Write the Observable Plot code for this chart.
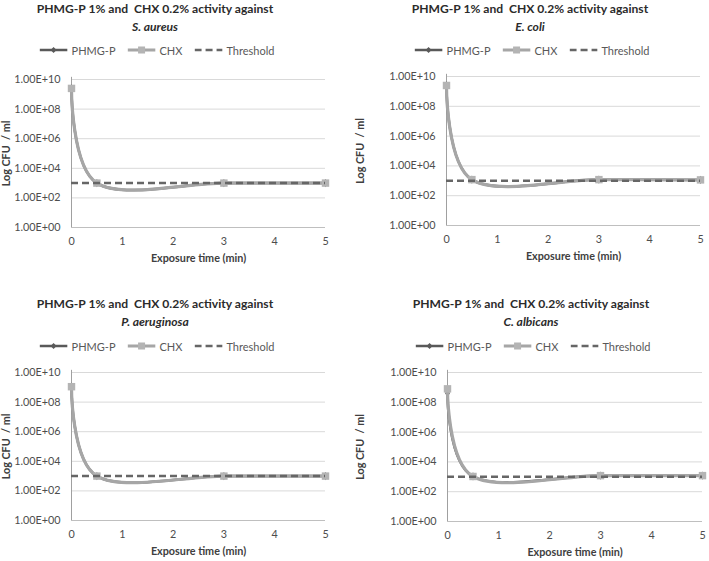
<!DOCTYPE html>
<html><head><meta charset="utf-8">
<script src="https://cdn.jsdelivr.net/npm/d3@7"></script>
<script src="https://cdn.jsdelivr.net/npm/@observablehq/plot@0.6"></script>
<style>
body{margin:0;background:#fff;}
#root{position:relative;width:709px;height:561px;overflow:hidden;font-family:Lato,"Open Sans",sans-serif;background:#fff;}
.panel{position:absolute;height:280px;}
.title{position:absolute;text-align:center;font-weight:bold;font-size:12.1px;line-height:18px;color:#2b2b2b;white-space:pre;transform:translateX(-50%);}
.title i{font-style:italic;}
.legend{position:absolute;display:flex;align-items:center;font-size:11px;color:#595959;height:14px;white-space:nowrap;transform:translateX(-50%);}
.legend .item{display:flex;align-items:center;margin:0 6px;}
.legend svg{margin-right:4px;}
.chart{position:absolute;left:0;}
.chart svg [aria-label="x-axis label"] text,.chart svg [aria-label="y-axis label"] text{font-weight:bold;fill:#404040;}
</style>
</head><body>
<div id="root"></div>
<script>
// ---- data ----
const titleLine = "PHMG-P 1% and  CHX 0.2% activity against";
const organisms = ["S. aureus", "E. coli", "P. aeruginosa", "C. albicans"];
const times = [0, 0.5, 3, 5];
const phmgP = [
  [2.5e9, 1.0e3, 1.0e3, 1.0e3],
  [2.5e9, 1.2e3, 1.2e3, 1.15e3],
  [1.1e9, 1.0e3, 1.0e3, 1.0e3],
  [4.0e8, 1.05e3, 1.2e3, 1.2e3]
];
const chx = [
  [2.5e9, 1.0e3, 1.0e3, 1.0e3],
  [2.5e9, 1.2e3, 1.2e3, 1.15e3],
  [1.1e9, 1.0e3, 1.0e3, 1.0e3],
  [8.0e8, 1.05e3, 1.2e3, 1.2e3]
];
const threshold = 1e3;
const seriesNames = ["PHMG-P", "CHX", "Threshold"];
const xTicks = [0, 1, 2, 3, 4, 5];
const yTicks = [1, 1e2, 1e4, 1e6, 1e8, 1e10];
const xLabel = "Exposure time (min)";
const yLabel = "Log CFU  / ml";

// ---- layout ----
const layouts = [
  {left: 0,   top: 0,   w: 354, titleCx: 155, titleTop: 0,  legendCy: 50, svgTop: 64, ml: 71, mr: 29, ph: 148, mb: 44},
  {left: 354, top: 0,   w: 355, titleCx: 176, titleTop: 0,  legendCy: 50, svgTop: 61, ml: 92, mr: 9,  ph: 149, mb: 44},
  {left: 0,   top: 280, w: 354, titleCx: 155, titleTop: 15, legendCy: 66, svgTop: 77, ml: 71, mr: 29, ph: 148, mb: 40},
  {left: 354, top: 280, w: 355, titleCx: 177, titleTop: 15, legendCy: 66, svgTop: 77, ml: 93, mr: 7,  ph: 149, mb: 40}
];
const C = {phmg: "#595959", chx: "#a6a6a6", chxFill: "#b4b4b4", thr: "#666666", grid: "#d9d9d9", axis: "#bfbfbf"};

const fmt = d => "1.00E+" + String(Math.round(Math.log10(d))).padStart(2, "0");

function swatch(kind) {
  const ns = "http://www.w3.org/2000/svg";
  const s = document.createElementNS(ns, "svg");
  s.setAttribute("width", 28); s.setAttribute("height", 10);
  if (kind === 0) {
    s.innerHTML = `<line x1="0" x2="28" y1="5" y2="5" stroke="${C.phmg}" stroke-width="2.5"/><path d="M14,2 L17,5 L14,8 L11,5Z" fill="${C.phmg}"/>`;
  } else if (kind === 1) {
    s.innerHTML = `<line x1="0" x2="28" y1="5" y2="5" stroke="${C.chx}" stroke-width="3"/><rect x="10.5" y="1.5" width="7" height="7" fill="${C.chxFill}"/>`;
  } else {
    s.innerHTML = `<line x1="0" x2="28" y1="5" y2="5" stroke="${C.thr}" stroke-width="2.5" stroke-dasharray="7,4"/>`;
  }
  return s;
}

const root = document.getElementById("root");
organisms.forEach((org, i) => {
  const L = layouts[i];
  const panel = document.createElement("div");
  panel.className = "panel";
  panel.style.left = L.left + "px"; panel.style.top = L.top + "px"; panel.style.width = L.w + "px";
  root.appendChild(panel);

  const title = document.createElement("div");
  title.className = "title";
  title.style.left = L.titleCx + "px"; title.style.top = L.titleTop + "px";
  title.innerHTML = `${titleLine}\n<i>${org}</i>`;
  panel.appendChild(title);

  const legend = document.createElement("div");
  legend.className = "legend";
  legend.style.left = L.titleCx + 2 + "px"; legend.style.top = (L.legendCy - 7) + "px";
  seriesNames.forEach((name, k) => {
    const it = document.createElement("div");
    it.className = "item";
    it.appendChild(swatch(k));
    const sp = document.createElement("span"); sp.textContent = name;
    it.appendChild(sp);
    legend.appendChild(it);
  });
  panel.appendChild(legend);

  const pRows = times.map((t, j) => ({t, v: phmgP[i][j]}));
  const cRows = times.map((t, j) => ({t, v: chx[i][j]}));

  const chart = Plot.plot({
    width: L.w,
    height: 15 + L.ph + L.mb,
    marginLeft: L.ml, marginRight: L.mr, marginTop: 15, marginBottom: L.mb,
    style: {fontFamily: "Lato, 'Open Sans', sans-serif", fontSize: "10.8px", color: "#4d4d4d", background: "transparent", overflow: "visible"},
    x: {domain: [0, 5], ticks: xTicks, tickFormat: d3.format("d"), tickSize: 0, tickPadding: 10, label: xLabel, labelAnchor: "center", labelArrow: "none", labelOffset: 34},
    y: {type: "log", domain: [1, 1e10], ticks: yTicks, tickFormat: fmt, tickSize: 0, tickPadding: 11, label: yLabel, labelAnchor: "center", labelArrow: "none", labelOffset: L.ml - 2},
    marks: [
      Plot.gridY(yTicks.filter(d => d > 1), {stroke: C.grid, strokeOpacity: 1}),
      Plot.ruleY([1], {stroke: C.axis}),
      Plot.ruleX([0], {stroke: "#a0a0a0", y1: 1, y2: 1.4e10}),
      Plot.line(pRows, {x: "t", y: "v", stroke: C.phmg, strokeWidth: 2.5, curve: "cardinal", tension: 0}),
      Plot.dot(pRows, {x: "t", y: "v", symbol: "diamond", r: 2.5, fill: C.phmg}),
      Plot.line(cRows, {x: "t", y: "v", stroke: C.chx, strokeWidth: 3.2, curve: "cardinal", tension: 0}),
      Plot.dot(cRows, {x: "t", y: "v", symbol: "square", r: 4.2, fill: C.chxFill}),
      Plot.ruleY([threshold], {stroke: C.thr, strokeWidth: 2.5, strokeDasharray: "7,4"})
    ]
  });
  const wrap = document.createElement("div");
  wrap.className = "chart";
  wrap.style.top = L.svgTop + "px";
  wrap.appendChild(chart);
  panel.appendChild(wrap);
});
</script>
</body></html>
